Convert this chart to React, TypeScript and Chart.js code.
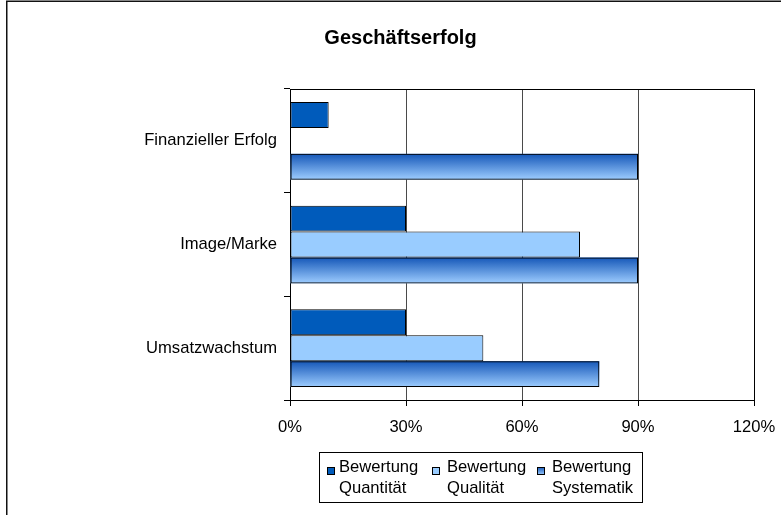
import React, { useEffect, useRef } from 'react';
import { Chart, registerables } from 'chart.js';

Chart.register(...registerables);

const chartTitle = 'Geschäftserfolg';
const categories = ['Finanzieller Erfolg', 'Image/Marke', 'Umsatzwachstum'];
const quantitaet = [10, 30, 30];
const qualitaet = [0, 75, 50];
const systematik = [90, 90, 80];
const seriesLabels = [
  ['Bewertung', 'Quantität'],
  ['Bewertung', 'Qualität'],
  ['Bewertung', 'Systematik'],
];
const xTickValues = [0, 30, 60, 90, 120];

const FONT = '"Liberation Sans", Arial, sans-serif';
const FS = 16.6;
const DARK = '#005BBB';
const LIGHT = '#99CCFF';
const GRAD_TOP = '#1557B8';
const GRAD_BOTTOM = '#9ECDFF';

function gradient(ctx: CanvasRenderingContext2D, top: number, h: number) {
  const g = ctx.createLinearGradient(0, top, 0, top + h);
  g.addColorStop(0, GRAD_TOP);
  g.addColorStop(1, GRAD_BOTTOM);
  return g;
}

const align = (p: number) => Math.round(p + 0.5) - 0.5;

const decor = {
  id: 'decor',
  beforeDatasetDraw(chart: any, args: any) {
    if (args.index !== 2) return;
    const ctx = chart.ctx as CanvasRenderingContext2D;
    ctx.save();
    args.meta.data.forEach((el: any) => {
      const { x, y, base, height } = el.getProps(['x', 'y', 'base', 'height'], true);
      const top = y - height / 2;
      ctx.fillStyle = gradient(ctx, top, height);
      ctx.fillRect(Math.min(base, x), top, Math.abs(x - base), height);
    });
    ctx.restore();
  },
  afterDraw(chart: any) {
    const ctx = chart.ctx as CanvasRenderingContext2D;
    const a = chart.chartArea;
    ctx.save();
    // plot frame (top and right)
    ctx.strokeStyle = '#000';
    ctx.lineWidth = 1;
    ctx.beginPath();
    ctx.moveTo(a.left, align(a.top));
    ctx.lineTo(align(a.right) + 0.5, align(a.top));
    ctx.moveTo(align(a.right), a.top);
    ctx.lineTo(align(a.right), a.bottom);
    ctx.stroke();

    // outer border
    ctx.strokeStyle = '#111';
    ctx.lineWidth = 1.5;
    ctx.strokeRect(6.75, 1.25, 900, 700);

    // title
    ctx.fillStyle = '#000';
    ctx.font = 'bold 20px ' + FONT;
    ctx.textAlign = 'center';
    ctx.textBaseline = 'alphabetic';
    ctx.fillText(chartTitle, 400.5, 44);

    // legend
    ctx.strokeStyle = '#000';
    ctx.lineWidth = 1;
    ctx.strokeRect(319.5, 452.5, 323, 50);
    const swatchX = [327, 432, 537];
    const textX = [339, 447, 552];
    const fills = [DARK, LIGHT, null];
    ctx.font = FS + 'px ' + FONT;
    ctx.textAlign = 'left';
    seriesLabels.forEach((lines, i) => {
      const sx = swatchX[i];
      const sy = 467;
      ctx.fillStyle = fills[i] ?? gradient(ctx, sy, 8);
      ctx.fillRect(sx, sy, 8, 8);
      ctx.strokeStyle = '#000';
      ctx.strokeRect(sx + 0.5, sy + 0.5, 7, 7);
      ctx.fillStyle = '#000';
      lines.forEach((t, j) => {
        ctx.fillText(t, textX[i], 472 + j * 21);
      });
    });
    ctx.restore();
  },
};

export default function App() {
  const ref = useRef<HTMLCanvasElement | null>(null);
  useEffect(() => {
    if (!ref.current) return;
    const barStyle = {
      borderColor: '#000',
      borderWidth: 1,
      borderSkipped: false,
      barPercentage: 1,
      categoryPercentage: 0.75,
    };
    const chart = new Chart(ref.current, {
      type: 'bar',
      data: {
        labels: categories,
        datasets: [
          { label: seriesLabels[0].join(' '), data: quantitaet, backgroundColor: DARK, ...barStyle },
          { label: seriesLabels[1].join(' '), data: qualitaet, backgroundColor: LIGHT, ...barStyle },
          { label: seriesLabels[2].join(' '), data: systematik, backgroundColor: 'rgba(0,0,0,0)', ...barStyle },
        ],
      },
      options: {
        indexAxis: 'y',
        animation: false,
        responsive: true,
        maintainAspectRatio: false,
        layout: { padding: { left: 0, right: 27, top: 89, bottom: 75 } },
        plugins: {
          legend: { display: false },
          title: { display: false },
          tooltip: { enabled: false },
        },
        scales: {
          x: {
            type: 'linear',
            min: 0,
            max: 120,
            afterBuildTicks: (s: any) => {
              s.ticks = xTickValues.map((v) => ({ value: v }));
            },
            afterFit: (s: any) => {
              s.height = 40;
              s.paddingLeft = 0;
              s.paddingRight = 0;
            },
            ticks: {
              color: '#000',
              font: { family: FONT, size: FS },
              padding: 11,
              callback: (v: any) => v + '%',
            },
            grid: {
              color: '#4a4a4a',
              lineWidth: 1,
              tickColor: '#000',
              tickLength: 6,
              drawTicks: true,
            },
            border: { color: '#000', width: 1 },
          },
          y: {
            type: 'category',
            offset: true,
            afterFit: (s: any) => {
              s.width = 290;
              s.paddingTop = 0;
              s.paddingBottom = 0;
            },
            ticks: {
              color: '#000',
              font: { family: FONT, size: FS },
              padding: 7,
            },
            grid: {
              offset: true,
              drawOnChartArea: false,
              drawTicks: true,
              tickLength: 6,
              tickColor: '#000',
              color: '#000',
            },
            border: { color: '#000', width: 1 },
          },
        },
      },
      plugins: [decor],
    } as any);
    return () => chart.destroy();
  }, []);
  return (
    <div style={{ position: 'absolute', left: 0, top: 0, width: 781, height: 515, background: '#fff' }}>
      <canvas ref={ref} />
    </div>
  );
}
